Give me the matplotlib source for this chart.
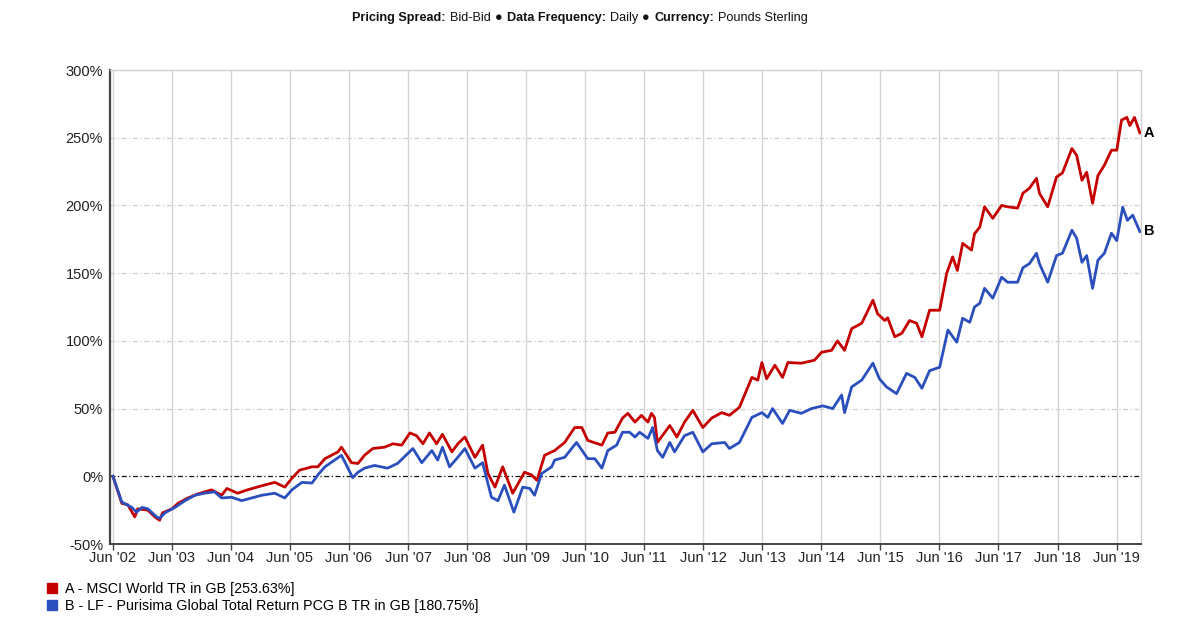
import matplotlib
matplotlib.use("Agg")
import matplotlib.pyplot as plt
from matplotlib.lines import Line2D
from matplotlib.offsetbox import TextArea, HPacker, AnchoredOffsetbox

plt.rcParams['font.family'] = ['Liberation Sans', 'DejaVu Sans']

# ---- data (decimal years, cumulative % return) ----
years_a = [2002.42, 2002.57, 2002.67, 2002.79, 2002.84, 2003.01, 2003.13, 2003.21, 2003.26, 2003.42,
           2003.52, 2003.69, 2003.86, 2004.09, 2004.26, 2004.35, 2004.53, 2004.70, 2004.94, 2005.16,
           2005.33, 2005.45, 2005.58, 2005.79, 2005.89, 2006.01, 2006.23, 2006.29, 2006.46, 2006.57,
           2006.68, 2006.82, 2007.02, 2007.16, 2007.31, 2007.45, 2007.56, 2007.67, 2007.78, 2007.90,
           2008.00, 2008.16, 2008.26, 2008.38, 2008.55, 2008.68, 2008.77, 2008.89, 2009.02, 2009.19,
           2009.39, 2009.51, 2009.60, 2009.73, 2009.90, 2010.07, 2010.24, 2010.36, 2010.46, 2010.70,
           2010.80, 2010.92, 2011.05, 2011.14, 2011.26, 2011.37, 2011.48, 2011.54, 2011.59, 2011.64,
           2011.85, 2011.97, 2012.10, 2012.24, 2012.41, 2012.56, 2012.73, 2012.86, 2013.03, 2013.24,
           2013.34, 2013.41, 2013.49, 2013.63, 2013.76, 2013.85, 2014.08, 2014.30, 2014.42, 2014.59,
           2014.69, 2014.81, 2014.93, 2015.10, 2015.29, 2015.37, 2015.49, 2015.54, 2015.66, 2015.78,
           2015.91, 2016.03, 2016.12, 2016.25, 2016.42, 2016.54, 2016.64, 2016.72, 2016.81, 2016.96,
           2017.01, 2017.10, 2017.18, 2017.32, 2017.47, 2017.57, 2017.74, 2017.83, 2017.94, 2018.06,
           2018.11, 2018.25, 2018.40, 2018.50, 2018.66, 2018.74, 2018.83, 2018.91, 2019.01, 2019.10,
           2019.21, 2019.33, 2019.42, 2019.50, 2019.59, 2019.64, 2019.72, 2019.81]
msci_world = [0, -20, -21, -30, -24, -25, -30, -32.5, -27, -24,
              -20, -16, -13, -10, -14, -9, -12.5, -10, -7, -4.5,
              -8, -1.5, 4.5, 7, 7, 13, 18, 21.5, 10, 9.5,
              15.5, 20.5, 21.5, 24, 23, 32, 30, 24, 32, 24,
              31, 18, 24, 29, 14, 23, 2, -8, 7, -12.5,
              3, 1, -3, 15.5, 19, 25, 36, 36, 26.5, 23,
              32, 32.5, 43, 46.5, 40, 45, 40, 46.5, 43.5, 25,
              37.5, 29, 40, 48.7, 36, 43, 47, 45, 51, 73,
              71, 84, 72, 82, 73, 84, 83.5, 85.7, 91.6, 93,
              100, 93, 109, 113, 130, 120, 115, 117, 103, 105.6,
              115, 113, 103, 122.6, 122.6, 150, 162, 152, 172, 167,
              179, 184, 199, 190.5, 200, 199, 198, 209, 212.7, 220,
              209, 199, 221, 224, 242, 237, 218.6, 224.5, 201.6, 222,
              229.7, 240.8, 240.8, 263, 265, 259, 265, 253.63]

years_b = [2002.42, 2002.57, 2002.74, 2002.82, 2002.91, 2003.01, 2003.16, 2003.21, 2003.30, 2003.47,
           2003.64, 2003.81, 2003.97, 2004.14, 2004.26, 2004.43, 2004.60, 2004.77, 2004.94, 2005.16,
           2005.33, 2005.45, 2005.62, 2005.79, 2005.89, 2006.01, 2006.29, 2006.48, 2006.57, 2006.68,
           2006.85, 2007.07, 2007.24, 2007.50, 2007.65, 2007.82, 2007.92, 2008.00, 2008.12, 2008.26,
           2008.38, 2008.55, 2008.68, 2008.83, 2008.94, 2009.05, 2009.21, 2009.36, 2009.48, 2009.56,
           2009.68, 2009.85, 2009.90, 2010.07, 2010.27, 2010.46, 2010.58, 2010.70, 2010.80, 2010.95,
           2011.05, 2011.17, 2011.26, 2011.34, 2011.48, 2011.56, 2011.64, 2011.73, 2011.85, 2011.93,
           2012.10, 2012.24, 2012.41, 2012.56, 2012.78, 2012.86, 2013.03, 2013.24, 2013.41, 2013.51,
           2013.59, 2013.76, 2013.88, 2014.08, 2014.25, 2014.44, 2014.61, 2014.76, 2014.81, 2014.93,
           2015.10, 2015.29, 2015.40, 2015.52, 2015.69, 2015.86, 2016.00, 2016.12, 2016.25, 2016.42,
           2016.56, 2016.71, 2016.81, 2016.93, 2017.01, 2017.10, 2017.18, 2017.32, 2017.47, 2017.57,
           2017.74, 2017.83, 2017.94, 2018.06, 2018.11, 2018.25, 2018.40, 2018.50, 2018.66, 2018.74,
           2018.83, 2018.91, 2019.01, 2019.10, 2019.21, 2019.33, 2019.42, 2019.52, 2019.60, 2019.69,
           2019.81]
purisima = [0, -19, -23, -26.5, -23, -24, -30, -31, -27, -23,
            -18, -14, -12.5, -11.5, -16, -15.5, -18, -16, -14, -12.5,
            -16, -10, -4.5, -5, 1, 7, 15.5, -1, 3, 6,
            8, 6, 9.5, 20.5, 10, 19, 12, 21.5, 7, 14,
            20.5, 6, 10, -15.5, -18, -6.5, -26.5, -8, -9, -14,
            2, 7, 12, 14, 25, 13, 13, 6, 19, 23,
            32.5, 32.5, 29, 32.5, 28, 36, 19, 14, 25, 18,
            30, 32.5, 18, 24, 25, 20.5, 25, 43.5, 47, 43.5,
            50, 39, 48.7, 46.5, 50, 52, 50, 60, 47, 66,
            71, 83.5, 72, 66, 61, 76, 73, 65, 78, 80.5,
            108, 99, 116.7, 113.7, 125, 127.8, 138.8, 131.5, 147, 143.3,
            143.3, 154, 157, 164.7, 157, 143.3, 163, 164.7, 181.7, 175.8,
            158, 163, 138.8, 159.5, 164.7, 179.5, 174, 198.7, 189, 192.8,
            180.75]

tick_years = list(range(2002, 2020))
tick_labels = ["Jun '%02d" % (y % 100) for y in tick_years]
y_ticks = [-50, 0, 50, 100, 150, 200, 250, 300]

label_a = "A - MSCI World TR in GB [253.63%]"
label_b = "B - LF - Purisima Global Total Return PCG B TR in GB [180.75%]"

red = '#c40000'
blue = '#2b50bd'

fig = plt.figure(figsize=(12, 6.26), dpi=100)
ax = fig.add_axes([110/1200, 1-544/626, (1141-110)/1200, (544-70)/626])

ax.plot(years_a, msci_world, color=red, lw=2.0, zorder=3)
ax.plot(years_b, purisima, color=blue, lw=2.0, zorder=4)

ax.set_xlim(2002.37, 2019.83)
ax.set_ylim(-50, 300)

xt = [y + 5/12 for y in tick_years]
ax.set_xticks(xt)
ax.set_xticklabels(tick_labels, fontsize=10.5, color='#222222')
ax.set_yticks(y_ticks)
ax.set_yticklabels(['%d%%' % v for v in y_ticks], fontsize=10.5, color='#222222')
ax.tick_params(axis='x', length=4, width=1, color='#444444', pad=1)
ax.tick_params(axis='y', length=0, pad=5)

for x in xt:
    ax.axvline(x, color='#d4d4d4', lw=1.0, zorder=1)
for v in y_ticks[2:-1]:
    ax.axhline(v, color='#cfcfcf', lw=0.9, ls=(0, (4, 2, 1, 2)), zorder=1)
ax.axhline(0, color='#111111', lw=0.9, ls=(0, (4, 2, 1, 2)), zorder=2)

for s in ['top', 'right']:
    ax.spines[s].set_color('#d0d0d0')
    ax.spines[s].set_linewidth(1.0)
ax.spines['left'].set_color('#444444')
ax.spines['left'].set_linewidth(1.6)
ax.spines['bottom'].set_color('#444444')
ax.spines['bottom'].set_linewidth(1.4)

ax.text(1.003, msci_world[-1], 'A', transform=ax.get_yaxis_transform(),
        fontsize=10.5, fontweight='bold', va='center', ha='left')
ax.text(1.003, purisima[-1], 'B', transform=ax.get_yaxis_transform(),
        fontsize=10.5, fontweight='bold', va='center', ha='left')

# Title
parts = [("Pricing Spread:", 'bold'), ("Bid-Bid", 'normal'), ("\u25CF", 'normal'),
         ("Data Frequency:", 'bold'), ("Daily", 'normal'), ("\u25CF", 'normal'),
         ("Currency:", 'bold'), ("Pounds Sterling", 'normal')]
areas = [TextArea(t, textprops=dict(fontsize=9.1, fontweight=w, color='#111111')) for t, w in parts]
box = HPacker(children=areas, align='baseline', pad=0, sep=3)
anch = AnchoredOffsetbox(loc='center', child=box, frameon=False,
                         bbox_to_anchor=(580/1200, 1-18/626), bbox_transform=fig.transFigure,
                         borderpad=0, pad=0)
fig.add_artist(anch)

# Legend
handles = [Line2D([], [], marker='s', ls='none', color=red, markersize=7),
           Line2D([], [], marker='s', ls='none', color=blue, markersize=7)]
fig.legend(handles, [label_a, label_b], loc='upper left', bbox_to_anchor=(46/1200, 1-582/626),
           frameon=False, fontsize=10.3, handlelength=0.8, handletextpad=0.5,
           labelspacing=0.2, borderpad=0, borderaxespad=0)

fig.savefig('out.png', dpi=100, facecolor='white')
